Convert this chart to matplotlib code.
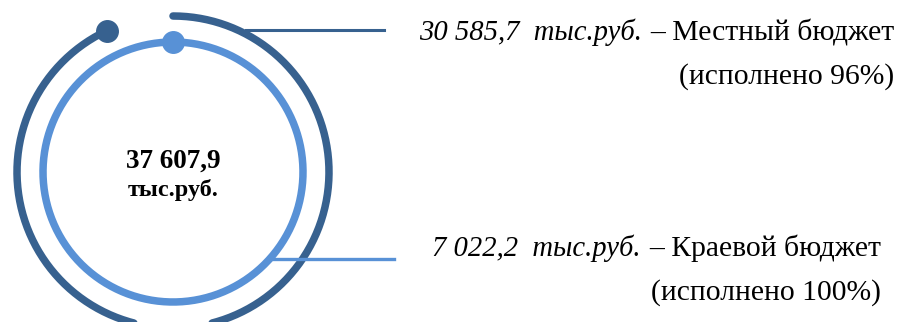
import numpy as np
import matplotlib
matplotlib.use("Agg")
import matplotlib.pyplot as plt

# budget parts (тыс.руб.) and execution
total_label = "37 607,9"
amounts = ["30 585,7", "7 022,2"]
names = ["Местный бюджет", "Краевой бюджет"]
executed = [96, 100]
# share of full circle covered by each ring
arc_share = [0.93, 1.0]

colors = ["#37618f", "#5891d6"]
radii = [156, 130]
center = (173, 172)

plt.rcParams["font.family"] = ["Liberation Serif", "DejaVu Serif"]

fig = plt.figure(figsize=(8.97, 3.22), dpi=100)
ax = fig.add_axes([0, 0, 1, 1])
ax.set_xlim(0, 897)
ax.set_ylim(322, 0)
ax.set_aspect("equal")
ax.axis("off")

# leader line of the outer ring sits under the rings
ax.plot([246, 384], [30, 30], color=colors[0], lw=2.2, zorder=1)

for r, share, col in zip(radii, arc_share, colors):
    # clockwise from 12 o'clock
    theta = np.linspace(0, share * 2 * np.pi, 400)
    xs = center[0] + r * np.sin(theta)
    ys = center[1] - r * np.cos(theta)
    ax.plot(xs, ys, color=col, lw=5.4, solid_capstyle="round", zorder=2)
    ax.plot(xs[-1], ys[-1], "o", color=col, ms=15.5, zorder=3)

ax.plot([272, 394], [259, 259], color=colors[1], lw=2.4, zorder=4)

# centre label
ax.text(center[0], 168, total_label, ha="center", va="baseline",
        fontsize=19.5, fontweight="bold")
ax.text(center[0], 196, "тыс.руб.", ha="center", va="baseline",
        fontsize=17.5, fontweight="bold")

# right-hand labels: (right edge, first baseline, second baseline)
rows = [(894, 40, 84), (881, 256, 300)]
for (xr, y1, y2), amt, name, pct in zip(rows, amounts, names, executed):
    t = ax.text(xr, y1, "– " + name, ha="right", va="baseline",
                fontsize=21.3)
    ax.annotate(amt + "  тыс.руб.", xy=(0, 0), xycoords=t,
                xytext=(-6, 0), textcoords="offset points",
                ha="right", va="bottom", fontsize=20.6, fontstyle="italic")
    ax.text(xr, y2, "(исполнено %d%%)" % pct, ha="right", va="baseline",
            fontsize=21.3)

fig.savefig("out.png", dpi=100)
